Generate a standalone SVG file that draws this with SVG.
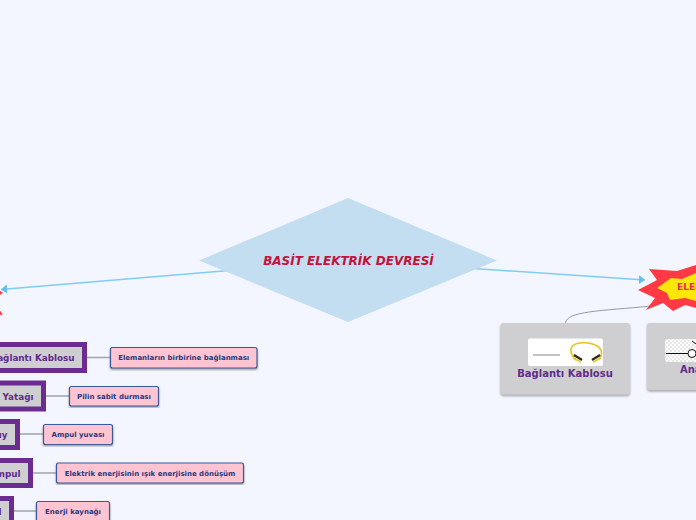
<svg xmlns="http://www.w3.org/2000/svg" width="696" height="520" viewBox="0 0 696 520">
<style>
text{font-family:"DejaVu Sans",sans-serif;font-weight:700}
.c{fill:none;stroke:#7fcdf2;stroke-width:1.5}
.g{fill:none;stroke:#a3a3ab;stroke-width:1.5}
.t{fill:#cfcfd1;stroke:#6a2c91;stroke-width:5}
.tl{fill:#622a8c;font-size:8.800px;text-anchor:end}
.p{fill:#ffc4d2;stroke:#3a5a9a;stroke-width:1.2}
.pl{fill:#1f3a80;font-size:7px;text-anchor:middle}
.card{fill:#cfcfd1}
.cl{fill:#622a8c;font-size:10px}
</style>
<defs>
<marker id="a" markerWidth="6" markerHeight="10" refX="6" refY="5" orient="auto" markerUnits="userSpaceOnUse"><path d="M0,0.500L6,5L0,9.500z" fill="#5fc0f0"/></marker>
<filter id="s" x="-5%" y="-5%" width="110%" height="115%"><feDropShadow dx="0" dy="1.500" stdDeviation="0.800" flood-color="#666" flood-opacity=".6"/></filter>
<pattern id="ck" width="4" height="4" patternUnits="userSpaceOnUse"><rect width="4" height="4" fill="#fff"/><rect width="2" height="2" fill="#e8e8e8"/><rect x="2" y="2" width="2" height="2" fill="#e8e8e8"/></pattern>
</defs>
<rect width="696" height="520" fill="#f3f6ff"/>
<g id="connectors">
<path class="c" d="M348,260L645,280" marker-end="url(#a)"/>
<path class="c" d="M348,260.500L1,289.500" marker-end="url(#a)"/>
<path d="M565.500,323C567,311 600,311 652,306" fill="none" stroke="#9a9aa4" stroke-width="1"/>
<path class="g" d="M87,357.500H110M46,396H69M20,434H43M33,473H56M14,511H36"/>
</g>
<g id="root"><path d="M199,260.500L348,198L497,260.500L348,322z" fill="#c3ddf1"/>
<text x="348.500" y="265" text-anchor="middle" font-size="12px" font-style="italic" fill="#c4123c">BASİT ELEKTRİK DEVRESİ</text></g>
<g id="star-left"><path d="M0,291L3,292.500L0,295z M0,315L0,310.500L2.500,314.500z" fill="#ff3a44"/></g>
<g id="star-right"><path d="M649,269L677,271L696,265V308L685,305L673,311L663,303L646,310L655,298L638,290L657,280z" fill="#ff3a44"/>
<path d="M657,288L671,278L682,279L696,273V301L685,298L670,300L667,293z" fill="#ffe60a"/>
<text x="677" y="290" font-size="9px" fill="#ee2a4e">ELEMANLAR</text></g>
<g id="card-kablo"><rect class="card" x="500.500" y="323" width="129.500" height="71.500" rx="3" filter="url(#s)"/>
<rect x="528" y="338.500" width="75" height="27.500" rx="2" fill="#fff"/>
<path d="M533,355H560" stroke="#888" stroke-width="1"/>
<path d="M576,360C569,353 569,346 577,343.500C586,341 598,344 601,350C603,355 600,359 597,360" fill="none" stroke="#e8c832" stroke-width="1.800"/>
<path d="M574,355L582,360M600,355L592,360" stroke="#2a2a1a" stroke-width="2.200"/>
<path d="M573,358L581,362M601,358L593,362" stroke="#e8c832" stroke-width="1.800"/>
<text class="cl" x="565" y="377" text-anchor="middle">Bağlantı Kablosu</text></g>
<g id="card-anahtar"><rect class="card" x="647" y="323" width="60" height="67" rx="3" filter="url(#s)"/>
<rect x="665" y="339" width="40" height="23" rx="2" fill="url(#ck)"/>
<path d="M666,353.500H688M692,341L700,347" stroke="#111" stroke-width="1"/>
<circle cx="692" cy="353.500" r="4" fill="#fff" stroke="#111"/>
<text class="cl" x="680" y="373">Anahtar</text></g>
<g id="n1"><rect class="t" x="-40" y="344.500" width="124.500" height="26"/><text class="tl" x="74.500" y="361">Bağlantı Kablosu</text></g>
<g id="n2"><rect class="t" x="-40" y="383" width="83.500" height="26"/><text class="tl" x="33.500" y="399.500">Pil Yatağı</text></g>
<g id="n3"><rect class="t" x="-40" y="421.500" width="57.500" height="26"/><text class="tl" x="7.500" y="438">Duy</text></g>
<g id="n4"><rect class="t" x="-40" y="460.500" width="70.500" height="25"/><text class="tl" x="20.500" y="477">Ampul</text></g>
<g id="n5"><rect class="t" x="-40" y="498.500" width="51.500" height="26"/><text class="tl" x="1.500" y="515">Pil</text></g>
<g id="d1"><rect class="p" x="110.500" y="347.500" width="146.500" height="20.500" rx="2" filter="url(#s)"/><text class="pl" x="183.700" y="360">Elemanların birbirine bağlanması</text></g>
<g id="d2"><rect class="p" x="69.500" y="386.500" width="89" height="19.500" rx="2" filter="url(#s)"/><text class="pl" x="114" y="399">Pilin sabit durması</text></g>
<g id="d3"><rect class="p" x="43.500" y="424.500" width="69" height="20" rx="2" filter="url(#s)"/><text class="pl" x="78" y="437">Ampul yuvası</text></g>
<g id="d4"><rect class="p" x="56.500" y="463" width="187" height="20" rx="2" filter="url(#s)"/><text class="pl" x="150" y="476">Elektrik enerjisinin ışık enerjisine dönüşüm</text></g>
<g id="d5"><rect class="p" x="36.500" y="501.500" width="73" height="20.500" rx="2" filter="url(#s)"/><text class="pl" x="73" y="514">Enerji kaynağı</text></g>
</svg>
